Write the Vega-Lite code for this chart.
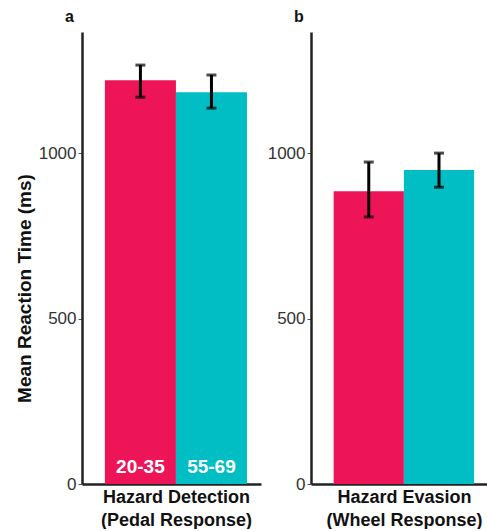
{
  "$schema": "https://vega.github.io/schema/vega-lite/v6.json",
  "padding": {"left": 15, "top": 9, "right": 0, "bottom": 0},
  "bounds": "flush",
  "spacing": 50,
  "background": "white",
  "config": {
    "view": {"stroke": null},
    "font": "Liberation Sans",
    "axis": {
      "grid": false,
      "domainColor": "#222222",
      "domainWidth": 2.5,
      "tickColor": "#555555",
      "tickSize": 4,
      "tickWidth": 1,
      "labelFont": "Liberation Sans",
      "labelFontSize": 17,
      "labelColor": "#333333",
      "labelPadding": 2,
      "titleFont": "Liberation Sans",
      "titleFontWeight": "bold",
      "titleColor": "#111111"
    },
    "title": {"font": "Liberation Sans", "fontWeight": "bold", "fontSize": 16, "color": "#111111"}
  },
  "datasets": {
    "rt": [
      {"panel": "a", "age": "20-35", "mean": 1220, "lo": 1169, "hi": 1266},
      {"panel": "a", "age": "55-69", "mean": 1184, "lo": 1136, "hi": 1236},
      {"panel": "b", "age": "20-35", "mean": 885, "lo": 807, "hi": 973},
      {"panel": "b", "age": "55-69", "mean": 949, "lo": 897, "hi": 1000}
    ]
  },
  "hconcat": [
    {
      "width": 179,
      "height": 452,
      "data": {"name": "rt"},
      "transform": [{"filter": "datum.panel === 'a'"}],
      "title": {"text": "a", "anchor": "start", "frame": "group", "dx": -17, "offset": 7},
      "encoding": {
        "x": {
          "field": "age", "type": "nominal",
          "scale": {"domain": ["20-35", "55-69"], "paddingInner": 0, "paddingOuter": 0.26, "align": 0.62},
          "axis": {"labels": false, "ticks": false, "title": ["Hazard Detection", "(Pedal Response)"], "titleFontSize": 18, "titleLineHeight": 23, "titlePadding": 4, "titleX": 94}
        }
      },
      "layer": [
        {
          "mark": {"type": "bar"},
          "encoding": {
            "y": {"field": "mean", "type": "quantitative",
              "scale": {"domain": [0, 1366], "nice": false},
              "axis": {"values": [0, 500, 1000], "format": "d", "title": "Mean Reaction Time (ms)", "titleFontSize": 19, "titleX": -48, "titleY": 256}},
            "color": {"field": "age", "type": "nominal", "scale": {"domain": ["20-35", "55-69"], "range": ["#ED1558", "#00BEC4"]}, "legend": null}
          }
        },
        {
          "mark": {"type": "rule", "color": "black", "strokeWidth": 3},
          "encoding": {"y": {"field": "lo", "type": "quantitative"}, "y2": {"field": "hi"}}
        },
        {
          "mark": {"type": "tick", "color": "black", "thickness": 3, "size": 10},
          "encoding": {"y": {"field": "lo", "type": "quantitative"}}
        },
        {
          "mark": {"type": "tick", "color": "black", "thickness": 3, "size": 10},
          "encoding": {"y": {"field": "hi", "type": "quantitative"}}
        },
        {
          "mark": {"type": "text", "color": "white", "fontWeight": "bold", "fontSize": 19, "baseline": "bottom", "dy": -7},
          "encoding": {"y": {"datum": 0, "type": "quantitative"}, "text": {"field": "age"}}
        }
      ]
    },
    {
      "width": 177,
      "height": 452,
      "data": {"name": "rt"},
      "transform": [{"filter": "datum.panel === 'b'"}],
      "title": {"text": "b", "anchor": "start", "frame": "group", "dx": -17, "offset": 7},
      "encoding": {
        "x": {
          "field": "age", "type": "nominal",
          "scale": {"domain": ["20-35", "55-69"], "paddingInner": 0, "paddingOuter": 0.26, "align": 0.62},
          "axis": {"labels": false, "ticks": false, "title": ["Hazard Evasion", "(Wheel Response)"], "titleFontSize": 18, "titleLineHeight": 23, "titlePadding": 4, "titleX": 93}
        }
      },
      "layer": [
        {
          "mark": {"type": "bar"},
          "encoding": {
            "y": {"field": "mean", "type": "quantitative",
              "scale": {"domain": [0, 1366], "nice": false},
              "axis": {"values": [0, 500, 1000], "format": "d", "title": null}},
            "color": {"field": "age", "type": "nominal", "scale": {"domain": ["20-35", "55-69"], "range": ["#ED1558", "#00BEC4"]}, "legend": null}
          }
        },
        {
          "mark": {"type": "rule", "color": "black", "strokeWidth": 3},
          "encoding": {"y": {"field": "lo", "type": "quantitative"}, "y2": {"field": "hi"}}
        },
        {
          "mark": {"type": "tick", "color": "black", "thickness": 3, "size": 10},
          "encoding": {"y": {"field": "lo", "type": "quantitative"}}
        },
        {
          "mark": {"type": "tick", "color": "black", "thickness": 3, "size": 10},
          "encoding": {"y": {"field": "hi", "type": "quantitative"}}
        }
      ]
    }
  ]
}
